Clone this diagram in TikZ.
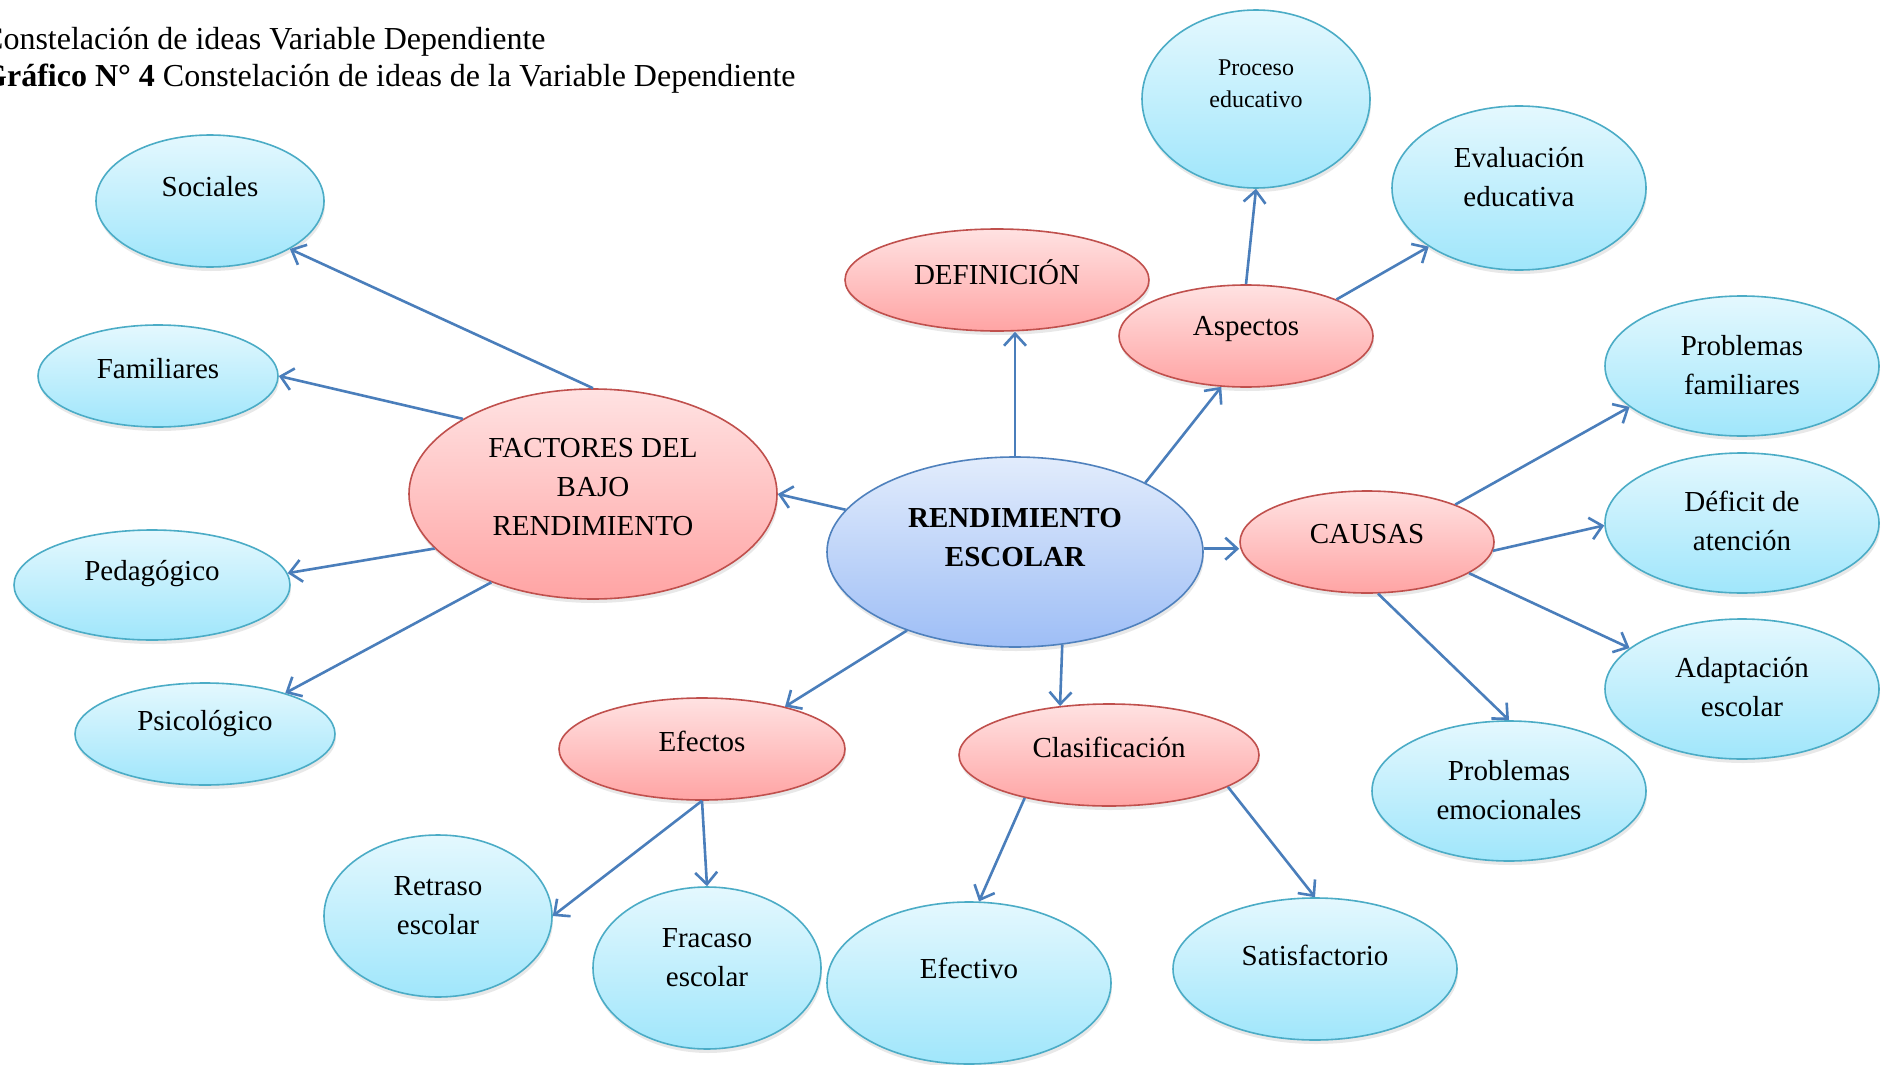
\documentclass[tikz,border=0pt]{standalone}
\usepackage{fontspec}
\setmainfont{Liberation Serif}
\usetikzlibrary{arrows.meta,shapes.geometric,shadows}
\definecolor{lineblue}{HTML}{4A7EBB}
\definecolor{cyb}{HTML}{4BACC6}
\definecolor{cyt}{HTML}{E4F8FE}
\definecolor{cybot}{HTML}{A0E6FB}
\definecolor{rdb}{HTML}{C0504D}
\definecolor{rdt}{HTML}{FFE2E2}
\definecolor{rdbot}{HTML}{FFA4A4}
\definecolor{blb}{HTML}{4F81BD}
\definecolor{blt}{HTML}{E2ECFC}
\definecolor{blbot}{HTML}{9EBEF6}
\tikzset{
  bub/.style={ellipse, inner sep=0pt, line width=1.6pt,
    drop shadow={shadow xshift=1pt, shadow yshift=-4pt, opacity=0.18}},
  cy/.style={bub, draw=cyb, top color=cyt, bottom color=cybot},
  rd/.style={bub, draw=rdb, top color=rdt, bottom color=rdbot},
  bl/.style={bub, draw=blb, top color=blt, bottom color=blbot},
  sz/.style 2 args={minimum width=#1pt, minimum height=#2pt},
  txt/.style={font=\fontsize{29}{39}\selectfont, align=center, inner sep=0pt},
  smalltxt/.style={font=\fontsize{24}{32.5}\selectfont, align=center, inner sep=0pt},
  titletxt/.style={font=\fontsize{32}{36}\selectfont, anchor=base west, inner sep=0pt},
  arr/.style={draw=lineblue, line width=2.6pt, -{Straight Barb[length=12pt,width=22pt]}},
}
\begin{document}
\begin{tikzpicture}[x=1pt,y=-1pt]
\clip (0,0) rectangle (1890,1065);
\fill[white] (0,0) rectangle (1890,1065);

% titles
\node[titletxt] (t1) at (-18,49) {Constelación de ideas Variable Dependiente};
\node[titletxt] (t2) at (-18,86) {\textbf{Gráfico N° 4} Constelación de ideas de la Variable Dependiente};

% ellipses
\node[cy, sz={228}{132}] (soc) at (210,201) {};
\node[cy, sz={240}{102}] (fam) at (158,376) {};
\node[cy, sz={276}{110}] (ped) at (152,585) {};
\node[cy, sz={260}{102}] (psi) at (205,734) {};
\node[rd, sz={368}{210}] (fac) at (593,494) {};
\node[bl, sz={376}{190}] (ren) at (1015,552) {};
\node[rd, sz={304}{102}] (def) at (997,280) {};
\node[rd, sz={254}{102}] (asp) at (1246,336) {};
\node[cy, sz={228}{178}] (pro) at (1256,99) {};
\node[cy, sz={254}{164}] (eva) at (1519,188) {};
\node[rd, sz={254}{102}] (cau) at (1367,542) {};
\node[cy, sz={274}{140}] (pfa) at (1742,366) {};
\node[cy, sz={274}{140}] (dea) at (1742,523) {};
\node[cy, sz={274}{140}] (ada) at (1742,689) {};
\node[cy, sz={274}{140}] (pem) at (1509,791) {};
\node[rd, sz={300}{102}] (cla) at (1109,755) {};
\node[rd, sz={286}{102}] (efe) at (702,749) {};
\node[cy, sz={228}{162}] (ret) at (438,916) {};
\node[cy, sz={228}{162}] (fra) at (707,968) {};
\node[cy, sz={284}{162}] (efv) at (969,983) {};
\node[cy, sz={284}{142}] (sat) at (1315,969) {};

% texts
\node[txt] (soct) at (210,187) {Sociales};
\node[txt] (famt) at (158,369) {Familiares};
\node[txt] (pedt) at (152,574) {Pedagógico};
\node[txt] (psit) at (205,724) {Psicológico};
\node[txt] (fact) at (593,487) {FACTORES DEL\\BAJO\\RENDIMIENTO};
\node[txt, font=\fontsize{29}{39}\selectfont\bfseries] (rent) at (1015,538) {RENDIMIENTO\\ESCOLAR};
\node[txt] (deft) at (997,272) {DEFINICIÓN};
\node[txt] (aspt) at (1246,329) {Aspectos};
\node[smalltxt] (prot) at (1256,84) {Proceso\\educativo};
\node[txt] (evat) at (1519,177) {Evaluación\\educativa};
\node[txt] (caut) at (1367,534) {CAUSAS};
\node[txt] (pfat) at (1742,365) {Problemas\\familiares};
\node[txt] (deat) at (1742,521) {Déficit de\\atención};
\node[txt] (adat) at (1742,687) {Adaptación\\escolar};
\node[txt] (pemt) at (1509,790) {Problemas\\emocionales};
\node[txt] (clat) at (1109,747) {Clasificación};
\node[txt] (efet) at (702,741) {Efectos};
\node[txt] (rett) at (438,906) {Retraso\\escolar};
\node[txt] (frat) at (707,958) {Fracaso\\escolar};
\node[txt] (efvt) at (969,968) {Efectivo};
\node[txt] (satt) at (1315,955) {Satisfactorio};

% connectors
\draw[arr] (fac.north) -- (soc.-31);
\draw[arr] (fac.150) -- (fam.0);
\draw[arr] (fac.199) -- (ped.5);
\draw[arr] (fac.221) -- (psi.27);
\draw[arr] (ren.166) -- (fac.east);
\draw[arr] (ren.north) -- (ren.north |- def.south);
\draw[arr] (ren.28) -- (asp.244);
\draw[arr] (asp.north) -- (pro.south);
\draw[arr] (asp.22) -- (eva.213);
\draw[arr] (ren.1) -- (ren.1 -| cau.west);
\draw[arr] (cau.23) -- (pfa.200);
\draw[arr] (cau.-4) -- (dea.181);
\draw[arr] (cau.-17) -- (ada.160);
\draw[arr] (cau.-78) -- (pem.north);
\draw[arr] (ren.-63) -- (cla.135);
\draw[arr] (ren.216) -- (efe.27);
\draw[arr] (efe.south) -- (ret.east);
\draw[arr] (efe.south) -- (fra.north);
\draw[arr] (cla.207) -- (efv.83);
\draw[arr] (cla.-15) -- (sat.north);
\end{tikzpicture}
\end{document}
